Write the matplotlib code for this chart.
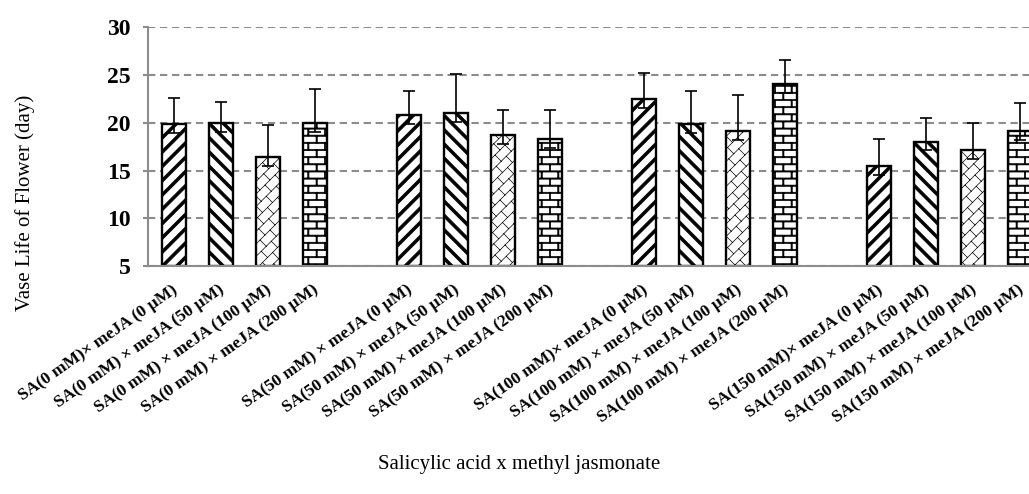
import numpy as np
import matplotlib
matplotlib.use('Agg')
import matplotlib.pyplot as plt
import matplotlib.hatch as mhatch
import matplotlib.transforms as mtransforms
from matplotlib.path import Path

# 数据
labels = [
    'SA(0 mM)× meJA (0 µM)', 'SA(0 mM) × meJA (50 µM)',
    'SA(0 mM) × meJA (100 µM)', 'SA(0 mM) × meJA (200 µM)',
    'SA(50 mM) × meJA (0 µM)', 'SA(50 mM) × meJA (50 µM)',
    'SA(50 mM) × meJA (100 µM)', 'SA(50 mM) × meJA (200 µM)',
    'SA(100 mM)× meJA (0 µM)', 'SA(100 mM) × meJA (50 µM)',
    'SA(100 mM) × meJA (100 µM)', 'SA(100 mM) × meJA (200 µM)',
    'SA(150 mM)× meJA (0 µM)', 'SA(150 mM) × meJA (50 µM)',
    'SA(150 mM) × meJA (100 µM)', 'SA(150 mM) × meJA (200 µM)',
]
vase_life = [19.9, 19.95, 16.4, 20.0,
             20.85, 21.05, 18.75, 18.3,
             22.5, 19.85, 19.15, 24.0,
             15.5, 18.0, 17.15, 19.15]
err_up = [2.65, 2.25, 3.4, 3.5,
          2.5, 4.05, 2.6, 3.0,
          2.7, 3.5, 3.75, 2.6,
          2.8, 2.5, 2.8, 2.95]
err_low = [1.0, 0.9, 0.9, 0.95,
           1.0, 0.95, 1.0, 0.95,
           1.0, 0.95, 0.95, 0.9,
           1.0, 0.9, 0.95, 0.95]
meja_hatches = ['p', 'q', 'w', 'b']   # 0, 50, 100, 200 µM


# 自定义填充图案 (Excel 风格)
class _CustomHatch(mhatch.HatchPatternBase):
    char = None

    def __init__(self, hatch, density):
        if self.char in hatch:
            self.verts, self.codes = self.build()
        else:
            self.verts, self.codes = np.empty((0, 2)), np.empty(0)
        self.num_vertices = len(self.verts)

    def set_vertices_and_codes(self, vertices, codes):
        vertices[:] = self.verts
        codes[:] = self.codes

    @staticmethod
    def _polys(polys):
        verts, codes = [], []
        for p in polys:
            verts += list(p) + [p[0]]
            codes += [Path.MOVETO] + [Path.LINETO] * (len(p) - 1) + [Path.CLOSEPOLY]
        return np.array(verts, float), np.array(codes)

    @staticmethod
    def _segs(segs):
        verts, codes = [], []
        for a, b in segs:
            verts += [a, b]
            codes += [Path.MOVETO, Path.LINETO]
        return np.array(verts, float), np.array(codes)


class StripeNE(_CustomHatch):
    char = 'p'

    def build(self, n=7, w=0.04):
        polys = []
        for k in range(-n - 1, n + 2):
            c = k / n
            polys.append([(c - w / 2 - 0.2, -0.2), (c + w / 2 - 0.2, -0.2),
                          (c + w / 2 + 1.2, 1.2), (c - w / 2 + 1.2, 1.2)])
        return self._polys(polys)


class StripeSE(_CustomHatch):
    char = 'q'

    def build(self, n=7, w=0.04):
        polys = []
        for k in range(-1, 2 * n + 2):
            c = k / n
            polys.append([(c - w / 2 + 0.2, -0.2), (c + w / 2 + 0.2, -0.2),
                          (c + w / 2 - 1.2, 1.2), (c - w / 2 - 1.2, 1.2)])
        return self._polys(polys)


class Brick(_CustomHatch):
    char = 'b'

    def build(self, rows=14, cols=6, t=0.012):
        polys = []
        for i in range(rows + 1):
            y = i / rows
            polys.append([(-0.1, y - t / 2), (1.1, y - t / 2),
                          (1.1, y + t / 2), (-0.1, y + t / 2)])
        for i in range(rows):
            y0, y1 = i / rows, (i + 1) / rows
            for j in range(-1, cols + 2):
                x = j / cols + (i % 2) / (2 * cols)
                polys.append([(x - t / 2, y0), (x + t / 2, y0),
                              (x + t / 2, y1), (x - t / 2, y1)])
        return self._polys(polys)


class DiagBrick(_CustomHatch):
    char = 'w'

    def build(self, n=8, m=5):
        segs = []
        for k in range(-n - 1, n + 2):
            c = k / n
            segs.append(((c - 0.3, -0.3), (c + 1.3, 1.3)))
            c2 = (k + 1) / n
            for j in range(-3 * m, 4 * m):
                s = j / m + (k % 2) / (2 * m)
                a = ((s + c) / 2, (s - c) / 2)
                b = ((s + c2) / 2, (s - c2) / 2)
                if -0.3 < a[0] < 1.3 and -0.3 < a[1] < 1.3:
                    segs.append((a, b))
        return self._segs(segs)


mhatch._hatch_types.extend([StripeNE, StripeSE, Brick, DiagBrick])

plt.rcParams['font.family'] = ['Liberation Serif', 'DejaVu Serif']
plt.rcParams['hatch.linewidth'] = 0.5

fig = plt.figure(figsize=(10.29, 4.94), dpi=100)
ax = fig.add_axes([148 / 1029, 0.4611, 897.7 / 1029, 0.4842])

# 每组4个柱, 组间空一格
pos = np.array([i + i // 4 for i in range(len(vase_life))], float)
hatches = [meja_hatches[i % 4] for i in range(len(vase_life))]

bars = ax.bar(pos, np.array(vase_life) - 5, bottom=5, width=0.52,
              color='white', edgecolor='black', linewidth=1.7, zorder=2)
for bar, h in zip(bars, hatches):
    bar.set_hatch(h)

ax.errorbar(pos, vase_life, yerr=[err_low, err_up], fmt='none',
            ecolor='black', elinewidth=1.2, capsize=4.3, capthick=1.2, zorder=3)

ax.set_xlim(-0.55, 18.55)
ax.set_ylim(5, 30)
ax.set_yticks(np.arange(5, 31, 5))
ax.tick_params(axis='y', direction='out', length=3.6, width=1.5, colors='#8c8c8c',
               labelcolor='black', labelsize=17, pad=9)
for lab in ax.get_yticklabels():
    lab.set_fontweight('bold')
ax.set_xticks(pos)
ax.set_xticklabels([])
ax.tick_params(axis='x', length=0)

ax.yaxis.grid(True, color='#8c8c8c', linestyle=(0, (3.5, 2.25)), linewidth=1.5)
ax.set_axisbelow(True)
for side in ['top', 'right']:
    ax.spines[side].set_visible(False)
for side in ['left', 'bottom']:
    ax.spines[side].set_color('#8c8c8c')
    ax.spines[side].set_linewidth(1.5)
ax.spines['bottom'].set_zorder(4)

# 倾斜的类别标签
offset = mtransforms.ScaledTranslation(0.02, -0.22, fig.dpi_scale_trans)
for x, lab in zip(pos, labels):
    ax.text(x, 5, lab, transform=ax.transData + offset, rotation=35,
            rotation_mode='anchor', ha='right', va='center',
            fontsize=12.5, fontweight='bold')

fig.text(25 / 1029, 1 - 203 / 494, 'Vase Life of Flower (day)', rotation=90,
         ha='center', va='center', fontsize=15)
fig.text(519 / 1029, 1 - 465 / 494, 'Salicylic acid x methyl jasmonate',
         ha='center', va='center', fontsize=15)

fig.savefig('out.png', dpi=100)
